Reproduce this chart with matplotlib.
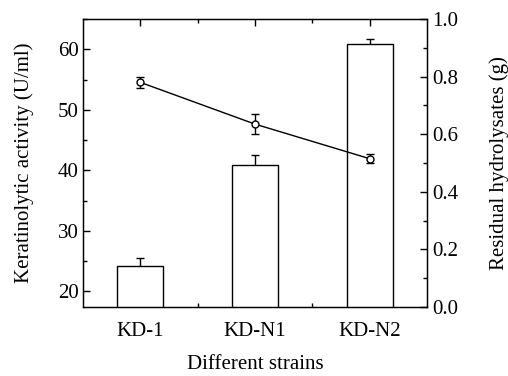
import matplotlib
matplotlib.use("Agg")
import matplotlib.pyplot as plt
from matplotlib.ticker import MultipleLocator, FixedLocator, FormatStrFormatter

strains = ["KD-1", "KD-N1", "KD-N2"]
activity = [24.2, 40.9, 60.9]          # U/ml, bars (left axis)
activity_err = [1.3, 1.6, 0.8]
residual = [0.78, 0.635, 0.515]        # g, line (right axis)
residual_err = [0.02, 0.035, 0.015]

plt.rcParams["font.family"] = ["Liberation Serif", "DejaVu Serif"]
plt.rcParams["font.size"] = 15

fig = plt.figure(figsize=(5.08, 3.76), dpi=100)
ax = fig.add_axes([83 / 508, 1 - 307 / 376, 344 / 508, 288 / 376])
x = list(range(1, len(strains) + 1))

ax.errorbar(x, activity, yerr=activity_err, fmt="none", ecolor="black",
            elinewidth=1, capsize=3, capthick=1, zorder=1)
ax.bar(x, activity, width=0.4, color="white", edgecolor="black",
       linewidth=1, zorder=2)
ax.set_xlim(0.5, 3.5)
ax.set_ylim(17.4, 65)
ax.set_xticks(x)
ax.set_xticklabels(strains)
ax.xaxis.set_minor_locator(FixedLocator([1.5, 2.5]))
ax.yaxis.set_major_locator(MultipleLocator(10))
ax.yaxis.set_minor_locator(MultipleLocator(5))
ax.tick_params(axis="both", which="both", direction="in", top=True)
ax.tick_params(axis="both", which="major", length=5, width=1)
ax.tick_params(axis="both", which="minor", length=3, width=1)
ax.tick_params(axis="x", which="major", pad=11)
ax.tick_params(axis="y", which="major", pad=3)
ax.set_ylabel("Keratinolytic activity (U/ml)", labelpad=17)
ax.set_xlabel("Different strains", labelpad=10)
for s in ax.spines.values():
    s.set_linewidth(1)

ax2 = ax.twinx()
ax2.errorbar(x, residual, yerr=residual_err, fmt="-o", color="black",
             markerfacecolor="white", markersize=5, linewidth=1,
             elinewidth=1, capsize=3, capthick=1)
ax2.set_ylim(0.0, 1.0)
ax2.yaxis.set_major_locator(MultipleLocator(0.2))
ax2.yaxis.set_minor_locator(MultipleLocator(0.1))
ax2.yaxis.set_major_formatter(FormatStrFormatter("%.1f"))
ax2.tick_params(axis="y", which="both", direction="in")
ax2.tick_params(axis="y", which="major", length=5, width=1, pad=4)
ax2.tick_params(axis="y", which="minor", length=3, width=1)
ax2.set_ylabel("Residual hydrolysates (g)", labelpad=22)

fig.savefig("out.png", dpi=100)
